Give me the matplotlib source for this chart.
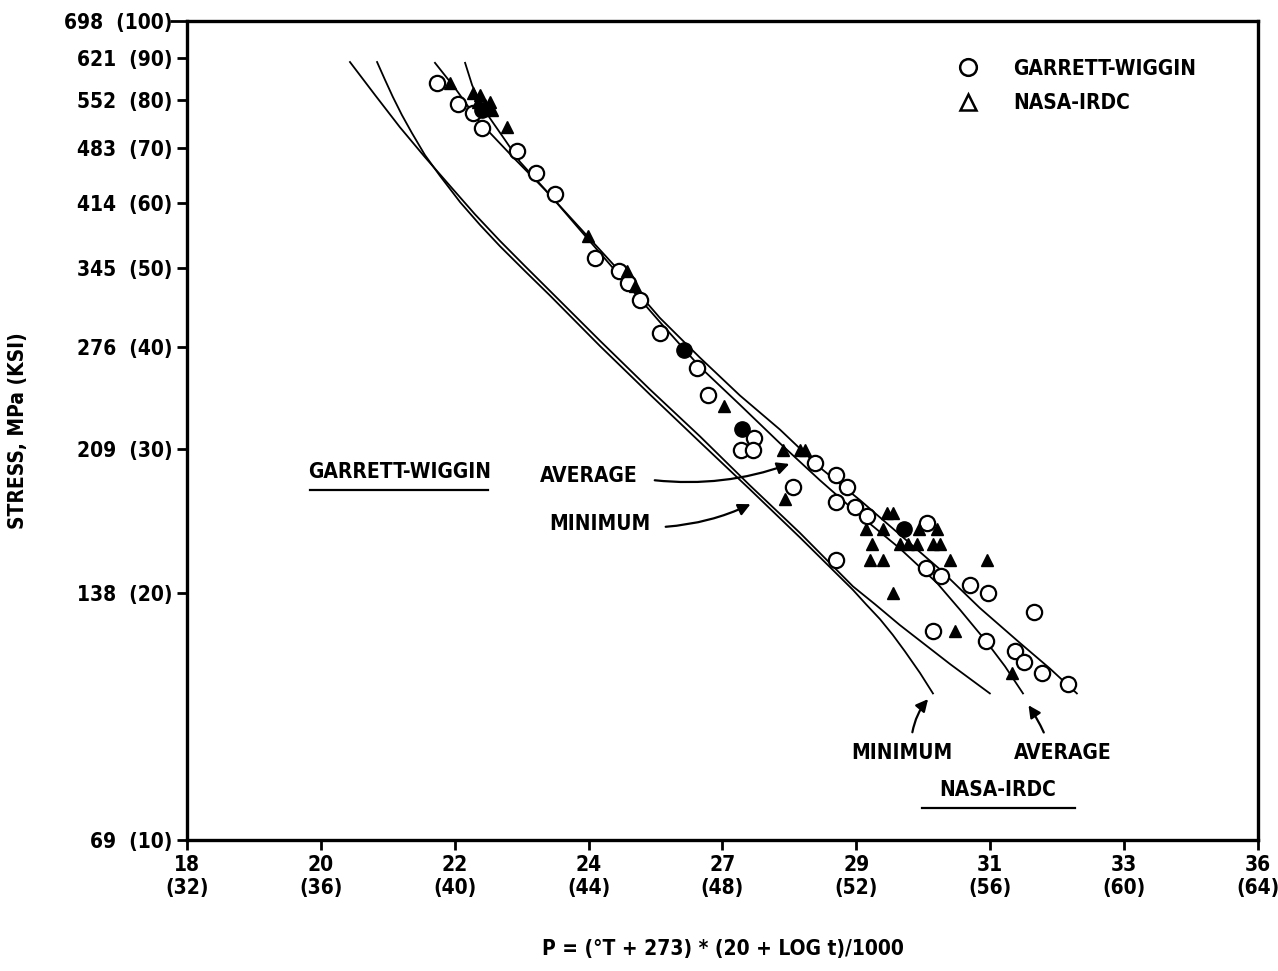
import numpy as np
import matplotlib
matplotlib.use("Agg")
from matplotlib import pyplot as plt
from matplotlib.lines import Line2D

plt.rcParams['font.family'] = ['DejaVu Sans']
plt.rcParams['font.stretch'] = 'condensed'
plt.rcParams['font.weight'] = 'bold'
plt.rcParams['axes.labelweight'] = 'bold'

# x in (English) P units, y in ksi
gw_x = [39.47, 40.10, 40.55, 40.81, 41.86, 42.43, 43.00, 44.19, 44.91, 45.18, 45.53,
        46.13, 47.24, 47.57, 48.94, 48.55, 48.91, 50.76, 50.11, 51.39, 51.72, 51.39,
        51.96, 52.32, 54.11, 51.39, 54.08, 54.53, 55.39, 55.93, 57.31, 54.29, 55.87,
        56.74, 57.01, 57.55, 58.32]
gw_y = [84.0, 79.2, 77.2, 74.0, 69.4, 65.2, 61.5, 51.4, 49.5, 47.9, 45.6,
        41.6, 37.7, 34.9, 31.0, 29.9, 29.9, 28.9, 27.0, 27.9, 27.0, 25.9,
        25.5, 24.9, 24.4, 22.0, 21.5, 21.0, 20.5, 20.0, 19.0, 18.0, 17.5,
        17.0, 16.5, 16.0, 15.5]
gw_fill_x = [40.81, 46.85, 48.58, 53.42]
gw_fill_y = [77.9, 39.7, 31.8, 24.0]

nasa_x = [39.86, 40.55, 40.75, 40.90, 41.05, 41.11, 40.69, 41.56, 43.98, 45.15, 45.39,
          48.04, 49.81, 50.32, 50.46, 49.87, 52.91, 53.09, 52.29, 52.80, 53.87, 54.41,
          52.47, 53.30, 53.54, 53.81, 54.29, 54.50, 52.41, 52.80, 54.80, 55.90, 53.09,
          54.95, 56.65]
nasa_y = [84.0, 81.7, 81.2, 79.0, 79.6, 77.9, 79.6, 74.2, 54.6, 49.5, 47.5,
          33.9, 29.9, 29.9, 29.9, 26.1, 25.1, 25.1, 24.0, 24.0, 24.0, 24.0,
          23.0, 23.0, 23.0, 23.0, 23.0, 23.0, 22.0, 22.0, 22.0, 22.0, 20.0,
          18.0, 16.0]

gw_avg_x = [39.41, 40.01, 40.69, 41.74, 42.70, 43.74, 44.94, 46.13, 47.33, 48.52,
            49.72, 50.91, 52.11, 53.30, 54.50, 55.69, 56.89, 57.78, 58.59]
gw_avg_y = [88.9, 82.8, 75.7, 68.2, 62.2, 55.9, 49.4, 43.4, 38.8, 34.9,
            31.7, 28.5, 26.0, 23.6, 21.4, 19.2, 17.4, 16.2, 15.1]
nasa_avg_x = [40.31, 40.52, 40.75, 41.05, 41.50, 41.95, 42.85, 43.74, 44.94, 46.13,
              47.33, 48.52, 49.72, 50.91, 52.11, 53.30, 54.41, 55.10, 55.87, 56.44, 56.98]
nasa_avg_y = [88.9, 83.5, 79.6, 76.1, 71.6, 67.3, 61.3, 55.6, 48.8, 42.9,
              37.8, 34.0, 30.5, 27.5, 24.9, 22.7, 20.6, 19.1, 17.5, 16.3, 15.1]
gw_min_x = [36.87, 37.62, 38.36, 39.11, 39.86, 40.60, 41.35, 42.10, 42.85, 44.34,
            45.83, 47.33, 48.82, 50.32, 51.90, 52.56, 53.30, 54.80, 55.99]
gw_min_y = [89.1, 81.2, 74.2, 68.2, 62.9, 58.1, 53.9, 50.2, 46.8, 40.7,
            35.5, 31.1, 27.1, 23.7, 20.4, 19.4, 18.3, 16.4, 15.1]
nasa_min_x = [37.68, 37.92, 38.15, 38.42, 38.72, 39.11, 39.56, 40.16, 40.75, 41.35,
              42.10, 42.85, 44.34, 45.83, 47.33, 48.82, 50.32, 51.90, 52.29, 52.71,
              53.09, 53.45, 53.90, 54.29]
nasa_min_y = [89.1, 84.7, 80.8, 76.8, 73.0, 68.6, 64.7, 60.1, 56.4, 53.1,
              49.5, 46.2, 40.1, 35.0, 30.6, 26.8, 23.4, 20.2, 19.4, 18.6,
              17.8, 17.0, 16.0, 15.1]

xticks = [32, 36, 40, 44, 48, 52, 56, 60, 64]
xlabels = ["18\n(32)", "20\n(36)", "22\n(40)", "24\n(44)", "27\n(48)", "29\n(52)",
           "31\n(56)", "33\n(60)", "36\n(64)"]
yticks = [10, 20, 30, 40, 50, 60, 70, 80, 90, 100]
ylabels = ["69  (10)", "138  (20)", "209  (30)", "276  (40)", "345  (50)", "414  (60)",
           "483  (70)", "552  (80)", "621  (90)", "698  (100)"]

fig = plt.figure(figsize=(12.78, 9.71), dpi=100)
ax = fig.add_axes([0.1463, 0.1349, 0.8380, 0.8435])

for cx, cy in [(gw_avg_x, gw_avg_y), (nasa_avg_x, nasa_avg_y),
               (gw_min_x, gw_min_y), (nasa_min_x, nasa_min_y)]:
    ax.plot(cx, cy, color='black', lw=1.3)

ax.plot(gw_x, gw_y, 'o', ms=11, mfc='white', mec='black', mew=1.6)
ax.plot(gw_fill_x, gw_fill_y, 'o', ms=11, mfc='black', mec='black')
ax.plot(nasa_x, nasa_y, '^', ms=9, mfc='black', mec='black')

ax.set_yscale('log')
ax.set_xlim(32, 64)
ax.set_ylim(10, 100)
ax.set_xticks(xticks)
ax.set_xticklabels(xlabels)
ax.set_yticks(yticks)
ax.set_yticklabels(ylabels)
ax.minorticks_off()
ax.tick_params(axis='both', labelsize=15, width=2, length=7, direction='out')
# top tick drawn longer, like in the original
ax.yaxis.get_major_ticks()[-1].tick1line.set_markersize(12)
for s in ax.spines.values():
    s.set_linewidth(2.4)

ax.set_ylabel("STRESS, MPa (KSI)", fontsize=15, labelpad=26)
ax.set_xlabel("P = (°T + 273) * (20 + LOG t)/1000", fontsize=15, labelpad=30)

handles = [Line2D([], [], ls='none', marker='o', ms=12, mfc='white', mec='black', mew=1.8),
           Line2D([], [], ls='none', marker='^', ms=11, mfc='white', mec='black', mew=1.8)]
ax.legend(handles, ["GARRETT-WIGGIN", "NASA-IRDC"], loc='upper left',
          bbox_to_anchor=(0.692, 0.977), frameon=False, fontsize=15,
          handletextpad=1.2, labelspacing=0.7)

tx = dict(transform=ax.transAxes, fontsize=15, ha='center', va='center')
ax.text(0.1989, 0.4493, "GARRETT-WIGGIN", **tx)
ax.plot([0.1148, 0.2810], [0.4274, 0.4274], transform=ax.transAxes, color='black', lw=1.6)
ax.text(0.3754, 0.4444, "AVERAGE", **tx)
ax.text(0.3856, 0.3858, "MINIMUM", **tx)
ax.text(0.6676, 0.1062, "MINIMUM", **tx)
ax.text(0.8179, 0.1062, "AVERAGE", **tx)
ax.text(0.7572, 0.0611, "NASA-IRDC", **tx)
ax.plot([0.6863, 0.8291], [0.0391, 0.0391], transform=ax.transAxes, color='black', lw=1.6)

arr = dict(arrowstyle='-|>', color='black', lw=1.6, mutation_scale=18)
ax.annotate("", xy=(0.5649, 0.4603), xytext=(0.4342, 0.4396), xycoords='axes fraction',
            arrowprops=dict(connectionstyle='arc3,rad=0.12', **arr))
ax.annotate("", xy=(0.5285, 0.4115), xytext=(0.4444, 0.3822), xycoords='axes fraction',
            arrowprops=dict(connectionstyle='arc3,rad=0.1', **arr))
ax.annotate("", xy=(0.6937, 0.1746), xytext=(0.6769, 0.1282), xycoords='axes fraction',
            arrowprops=dict(connectionstyle='arc3,rad=-0.15', **arr))
ax.annotate("", xy=(0.7843, 0.1673), xytext=(0.8011, 0.1282), xycoords='axes fraction',
            arrowprops=dict(connectionstyle='arc3,rad=0.05', **arr))

fig.savefig("out.png", dpi=100)
